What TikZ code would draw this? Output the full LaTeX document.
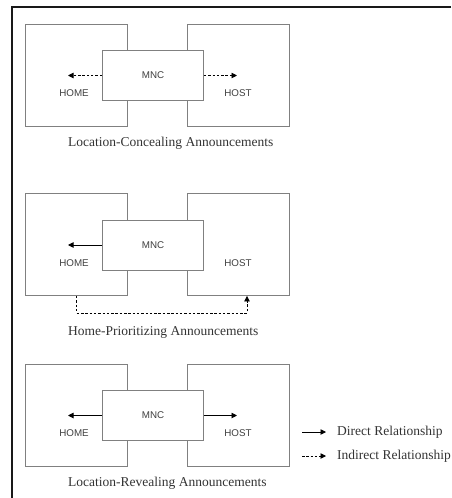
\documentclass[tikz,border=0pt]{standalone}
\usepackage{fontspec}
\setmainfont{Liberation Serif}
\setsansfont{Liberation Sans}
\usetikzlibrary{arrows.meta,positioning,calc}

\begin{document}
\begin{tikzpicture}[
    x=1pt, y=-1pt,
    font=\sffamily,
    country/.style={
        rectangle, draw=black!50, line width=0.9pt, fill=white,
        minimum width=102pt, minimum height=102pt, inner sep=0pt
    },
    firm/.style={
        rectangle, draw=black!50, line width=0.9pt, fill=white,
        minimum width=101pt, minimum height=50pt, inner sep=0pt,
        font=\sffamily\fontsize{9.8}{11}\selectfont, text=black!75
    },
    place/.style={
        font=\sffamily\fontsize{9.8}{11}\selectfont, text=black!75, inner sep=0pt
    },
    caption/.style={
        font=\rmfamily\fontsize{13.5}{16}\selectfont, text=black!80, anchor=west, inner sep=0pt
    },
    direct/.style={
        -{Triangle[length=5.5pt, width=5.5pt]}, line width=0.9pt, draw=black
    },
    indirect/.style={
        direct, dash pattern=on 2.5pt off 1.8pt
    }
]
\useasboundingbox (0,0) rectangle (451,498);

% Frame (top and left edge)
\draw[line width=1.5pt, black!90] (451,7) -- (12,7) -- (12,498);

% Panel 1: Location-Concealing
\node[country] (home1) at (76.5,75.5) {};
\node[country] (host1) at (238,75.5) {};
\node[firm] (mnc1) at (153,75.5) {MNC};
\node[place] (homeL1) at (74,93) {HOME};
\node[place] (hostL1) at (238,93) {HOST};
\coordinate (homeT1) at (68,75.5);
\coordinate (hostT1) at (237,75.5);
\draw[indirect] (mnc1.west) -- (homeT1);
\draw[indirect] (mnc1.east) -- (hostT1);
\node[caption] (cap1) at (68,143) {Location-Concealing Announcements};

% Panel 2: Home-Prioritizing
\node[country] (home2) at (76.5,244.5) {};
\node[country] (host2) at (238,244.5) {};
\node[firm] (mnc2) at (153,245) {MNC};
\node[place] (homeL2) at (74,263) {HOME};
\node[place] (hostL2) at (238,263) {HOST};
\coordinate (homeT2) at (68,245);
\draw[direct] (mnc2.west) -- (homeT2);
\draw[indirect] (home2.south) -- ++(0,17) -| ([xshift=9pt]host2.south);
\node[caption] (cap2) at (68,332) {Home-Prioritizing Announcements};

% Panel 3: Location-Revealing
\node[country] (home3) at (76.5,415) {};
\node[country] (host3) at (238,415) {};
\node[firm] (mnc3) at (153,415.5) {MNC};
\node[place] (homeL3) at (74,433) {HOME};
\node[place] (hostL3) at (238,433) {HOST};
\coordinate (homeT3) at (68,415.5);
\coordinate (hostT3) at (237,415.5);
\draw[direct] (mnc3.west) -- (homeT3);
\draw[direct] (mnc3.east) -- (hostT3);
\node[caption] (cap3) at (68,483) {Location-Revealing Announcements};

% Legend
\node[caption] (lgdD) at (337,432) {Direct Relationship};
\node[caption] (lgdI) at (337,456) {Indirect Relationship};
\draw[direct] ([xshift=-35pt]lgdD.west) -- ([xshift=-11pt]lgdD.west);
\draw[indirect] ([xshift=-35pt]lgdI.west) -- ([xshift=-11pt]lgdI.west);

\end{tikzpicture}
\end{document}
